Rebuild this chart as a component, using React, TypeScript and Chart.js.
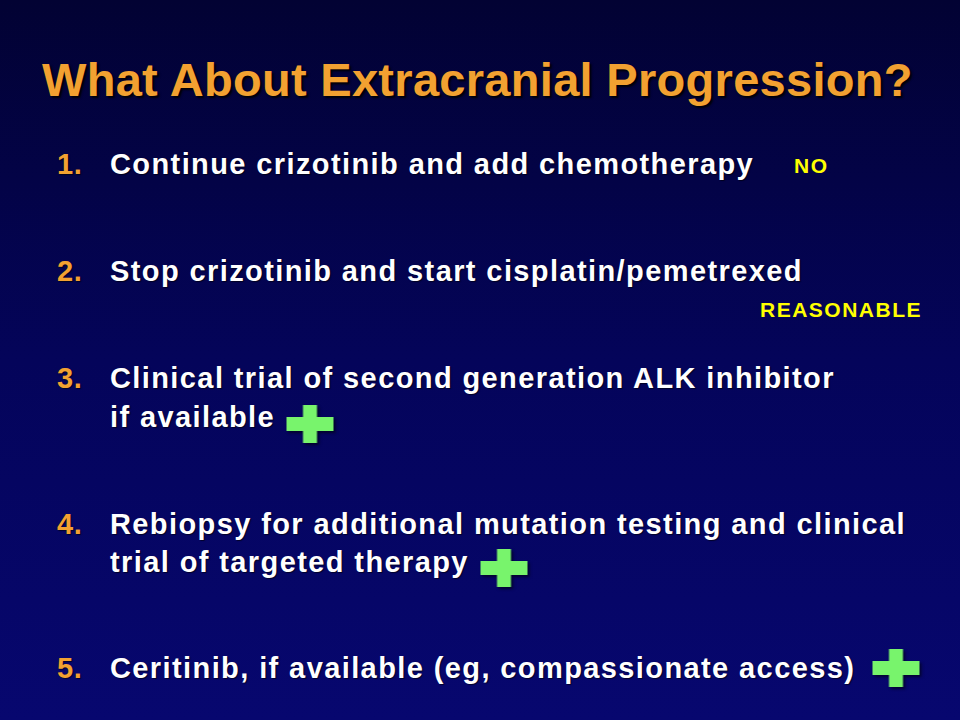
import React, { useEffect, useRef } from "react";
import { Chart, registerables } from "chart.js";

Chart.register(...registerables);

// ---- content ----
const TITLE = "What About Extracranial Progression?";
const ITEM_NUMBERS = ["1.", "2.", "3.", "4.", "5."];
const ITEM_LINES = [
  ["Continue crizotinib and add chemotherapy"],
  ["Stop crizotinib and start cisplatin/pemetrexed"],
  ["Clinical trial of second generation ALK inhibitor", "if available"],
  ["Rebiopsy for additional mutation testing and clinical", "trial of targeted therapy"],
  ["Ceritinib, if available (eg, compassionate access)"],
];
const VERDICT_LABELS = ["NO", "REASONABLE"];
// plus marks (items 3, 4, 5) in slide units
const PLUS_ITEMS = ["3.", "4.", "5."];
const PLUS_X = [310, 504, 896];
const PLUS_Y = [424, 568, 668];

// ---- layout (slide px) ----
const W = 960;
const H = 720;
const LINE_BASELINES = [[175], [282], [389, 428], [535, 573], [679]];
const VERDICT_POS = [
  { x: 794, baseline: 173 },
  { x: 760, baseline: 317 },
];

const FONT = '"Liberation Sans", Arial, Helvetica, sans-serif';
const ORANGE = "#F2A131";
const ASC = 0.8465; // baseline offset for line-height 1 (Liberation Sans)

function makePlusImage(): HTMLCanvasElement {
  const pw = 47, ph = 38, t = 14, pad = 5;
  const c = document.createElement("canvas");
  c.width = pw + pad * 2;
  c.height = ph + pad * 2;
  const ctx = c.getContext("2d")!;
  ctx.shadowColor = "rgba(0,0,0,0.55)";
  ctx.shadowBlur = 3;
  ctx.shadowOffsetX = 2;
  ctx.shadowOffsetY = 2;
  ctx.fillStyle = "#78F46C";
  ctx.beginPath();
  const cx = c.width / 2, cy = c.height / 2;
  ctx.rect(cx - pw / 2, cy - t / 2, pw, t);
  ctx.rect(cx - t / 2, cy - ph / 2, t, ph);
  ctx.fill();
  return c;
}

function PlusMarks() {
  const ref = useRef<HTMLCanvasElement | null>(null);
  useEffect(() => {
    if (!ref.current) return;
    const img = makePlusImage();
    const chart = new Chart(ref.current, {
      type: "scatter",
      data: {
        labels: PLUS_ITEMS,
        datasets: [
          {
            label: "recommended",
            data: PLUS_X.map((x, i) => ({ x, y: PLUS_Y[i] })),
            pointStyle: img as any,
            pointRadius: 20,
            pointHoverRadius: 20,
            clip: false as any,
          },
        ],
      },
      options: {
        animation: false,
        responsive: false,
        devicePixelRatio: 1,
        layout: { padding: 0, autoPadding: false },
        events: [],
        plugins: { legend: { display: false }, tooltip: { enabled: false } },
        scales: {
          x: { type: "linear", min: 0, max: W, display: false },
          y: { type: "linear", min: 0, max: H, reverse: true, display: false },
        },
      },
    });
    return () => chart.destroy();
  }, []);
  return (
    <canvas
      ref={ref}
      width={W}
      height={H}
      style={{ position: "absolute", left: 0, top: 0, width: W, height: H, pointerEvents: "none" }}
    />
  );
}

export default function App() {
  const itemFs = 29;
  const titleFs = 47;
  const verdictFs = 21;
  return (
    <div
      style={{
        position: "absolute",
        left: 0,
        top: 0,
        width: W,
        height: H,
        overflow: "hidden",
        background: "linear-gradient(180deg, #020233 0%, #04045a 50%, #07076f 100%)",
        fontFamily: FONT,
        fontWeight: "bold",
      }}
    >
      <div
        style={{
          position: "absolute",
          left: 42,
          top: 96 - ASC * titleFs,
          fontSize: titleFs,
          lineHeight: `${titleFs}px`,
          letterSpacing: "0.3px",
          color: ORANGE,
          whiteSpace: "nowrap",
          textShadow: "2px 2px 2px rgba(0,0,0,0.9)",
        }}
      >
        {TITLE}
      </div>

      {ITEM_NUMBERS.map((num, i) => (
        <React.Fragment key={num}>
          <div
            style={{
              position: "absolute",
              left: 57,
              top: LINE_BASELINES[i][0] - ASC * itemFs,
              fontSize: itemFs,
              lineHeight: `${itemFs}px`,
              color: ORANGE,
              letterSpacing: "0.5px",
              whiteSpace: "nowrap",
              textShadow: "1px 1px 1px rgba(0,0,0,0.6)",
            }}
          >
            {num}
          </div>
          {ITEM_LINES[i].map((line, j) => (
            <div
              key={j}
              style={{
                position: "absolute",
                left: 110,
                top: LINE_BASELINES[i][j] - ASC * itemFs,
                fontSize: itemFs,
                lineHeight: `${itemFs}px`,
                color: "#FFFFFF",
                letterSpacing: "1.4px",
                whiteSpace: "nowrap",
                textShadow: "1px 1px 1px rgba(0,0,0,0.6)",
              }}
            >
              {line}
            </div>
          ))}
        </React.Fragment>
      ))}

      {VERDICT_LABELS.map((v, i) => (
        <div
          key={v}
          style={{
            position: "absolute",
            left: VERDICT_POS[i].x,
            top: VERDICT_POS[i].baseline - ASC * verdictFs,
            fontSize: verdictFs,
            lineHeight: `${verdictFs}px`,
            color: "#FFFF00",
            letterSpacing: "1.5px",
            whiteSpace: "nowrap",
          }}
        >
          {v}
        </div>
      ))}

      <PlusMarks />
    </div>
  );
}
